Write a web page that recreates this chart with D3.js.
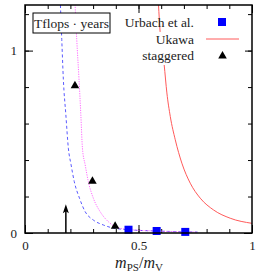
<!DOCTYPE html>
<html>
<head>
<meta charset="utf-8">
<script src="https://cdn.jsdelivr.net/npm/d3@7"></script>
<style>
  body { margin: 0; background: #fff; }
  svg { display: block; font-family: "Liberation Serif", "DejaVu Serif", serif; }
  svg text { font-family: "Liberation Serif", "DejaVu Serif", serif; }
  .tick line { stroke: #000; stroke-width: 1; }
  .tick text { font-size: 13px; fill: #222; }
</style>
</head>
<body>
<svg id="chart" width="258" height="273"></svg>
<script>
// values
const urbachX = [0.456, 0.58, 0.706];
const urbachY = [0.018, 0.011, 0.006];

const staggeredX = [0.22, 0.297, 0.397];
const staggeredY = [0.81, 0.287, 0.04];

const ukawaX = [0.588, 0.595, 0.613, 0.625, 0.640, 0.662, 0.691, 0.728, 0.772, 0.831, 0.904, 1.0];
const ukawaY = [1.253, 1.106, 0.923, 0.768, 0.639, 0.511, 0.383, 0.273, 0.191, 0.126, 0.081, 0.053];

const blueX = [0.156, 0.162, 0.169, 0.180, 0.191, 0.203, 0.217, 0.240, 0.265, 0.301, 0.345, 0.382, 0.454, 0.58, 0.706, 0.76];
const blueY = [1.25, 1.06, 0.841, 0.648, 0.465, 0.374, 0.282, 0.191, 0.117, 0.071, 0.044, 0.029, 0.018, 0.011, 0.006, 0.005];

const pinkX = [0.2206, 0.228, 0.238, 0.246, 0.253, 0.265, 0.279, 0.301, 0.331, 0.367, 0.397, 0.454, 0.58, 0.706, 0.76];
const pinkY = [1.253, 1.06, 0.841, 0.648, 0.465, 0.374, 0.282, 0.191, 0.117, 0.062, 0.035, 0.019, 0.011, 0.006, 0.005];

const arrowX = 0.18;
const arrowY = [0, 0.157];

const xMinor = d3.range(0, 1.0001, 0.1);
const xMajor = [0, 0.5, 1];
const xLabels = ["0", "0.5", "1"];
const yMinor = d3.range(0, 1.2001, 0.2);
const yMajor = [0, 1];
const yLabels = ["0", "1"];

const legendLabels = ["Urbach et al.", "Ukawa", "staggered"];
const boxLabel = "Tflops \u00b7 years";

const svg = d3.select("#chart");
const pl = 25, pr = 252, pt = 5, pb = 233;

const x = d3.scaleLinear().domain([0, 1]).range([pl, pr]);
const y = d3.scaleLinear().domain([0, 1.25]).range([pb, pt]);

svg.append("defs").append("clipPath").attr("id", "plotclip")
  .append("rect").attr("x", pl).attr("y", pt)
  .attr("width", pr - pl).attr("height", pb - pt);

const fmt = (vals, labs) => d => labs[vals.findIndex(v => Math.abs(v - d) < 1e-9)];

// ticks, all four sides, pointing in
function ticks(axisFn, scale, vals, size, tr, labs, pad) {
  const a = axisFn(scale).tickValues(vals).tickSize(-size).tickPadding(pad || 7)
    .tickFormat(labs ? fmt(vals, labs) : "");
  const g = svg.append("g").attr("transform", tr).call(a)
    .attr("font-family", null).attr("font-size", null);
  g.select(".domain").remove();
  return g;
}
ticks(d3.axisBottom, x, xMinor, 4, `translate(0,${pb})`);
ticks(d3.axisBottom, x, xMajor, 8, `translate(0,${pb})`, xLabels, 8);
ticks(d3.axisTop, x, xMinor, 4, `translate(0,${pt})`);
ticks(d3.axisTop, x, xMajor, 8, `translate(0,${pt})`);
ticks(d3.axisLeft, y, yMinor, 4, `translate(${pl},0)`);
ticks(d3.axisLeft, y, yMajor, 8, `translate(${pl},0)`, yLabels, 8);
ticks(d3.axisRight, y, yMinor, 4, `translate(${pr},0)`);
ticks(d3.axisRight, y, yMajor, 8, `translate(${pr},0)`);

const plot = svg.append("g").attr("clip-path", "url(#plotclip)");
const line = d3.line().x(d => x(d[0])).y(d => y(d[1])).curve(d3.curveMonotoneX);

plot.append("path")
  .datum(d3.zip(blueX, blueY))
  .attr("d", line)
  .attr("fill", "none").attr("stroke", "#5a5aff").attr("stroke-width", 1)
  .attr("stroke-dasharray", "3,2.5");

plot.append("path")
  .datum(d3.zip(pinkX, pinkY))
  .attr("d", line)
  .attr("fill", "none").attr("stroke", "#ff6cff").attr("stroke-width", 1)
  .attr("stroke-dasharray", "1.2,1.2");

plot.append("path")
  .datum(d3.zip(ukawaX, ukawaY))
  .attr("d", line)
  .attr("fill", "none").attr("stroke", "#ff5a5a").attr("stroke-width", 1);

// arrow
svg.append("line")
  .attr("x1", x(arrowX)).attr("x2", x(arrowX))
  .attr("y1", y(arrowY[0])).attr("y2", y(arrowY[1]) + 6)
  .attr("stroke", "#000").attr("stroke-width", 1.5);
svg.append("path")
  .attr("d", `M${x(arrowX)},${y(arrowY[1])} l-3,9 l3,-2 l3,2 Z`)
  .attr("fill", "#000");

// markers
const tri = d3.symbol().type(d3.symbolTriangle).size(32);
svg.selectAll(".stag").data(d3.zip(staggeredX, staggeredY)).enter()
  .append("path").attr("class", "stag")
  .attr("d", tri)
  .attr("transform", d => `translate(${x(d[0])},${y(d[1]) + 0.5})`)
  .attr("fill", "#000");

svg.selectAll(".urb").data(d3.zip(urbachX, urbachY)).enter()
  .append("rect").attr("class", "urb")
  .attr("x", d => x(d[0]) - 4).attr("y", d => y(d[1]) - 4)
  .attr("width", 8).attr("height", 8)
  .attr("fill", "#0000ff");

// frame
svg.append("rect")
  .attr("x", pl).attr("y", pt)
  .attr("width", pr - pl).attr("height", pb - pt)
  .attr("fill", "none").attr("stroke", "#000").attr("stroke-width", 1.5);

// label box
svg.append("rect")
  .attr("x", 33).attr("y", 13).attr("width", 77).attr("height", 20)
  .attr("fill", "#fff").attr("stroke", "#000").attr("stroke-width", 1);
svg.append("text")
  .attr("x", 71.5).attr("y", 28)
  .attr("text-anchor", "middle").attr("font-size", "13.5px").attr("fill", "#222")
  .text(boxLabel);

// legend
svg.append("rect")
  .attr("x", 145).attr("y", 32).attr("width", 100).attr("height", 33)
  .attr("fill", "#fff");
const rowY = [26.5, 43.5, 60];
legendLabels.forEach((t, i) => {
  svg.append("text")
    .attr("x", 194).attr("y", rowY[i])
    .attr("text-anchor", "end").attr("font-size", "13.5px").attr("fill", "#222")
    .text(t);
});
svg.append("rect").attr("x", 218).attr("y", rowY[0] - 8.5)
  .attr("width", 8).attr("height", 8).attr("fill", "#0000ff");
svg.append("line").attr("x1", 206).attr("x2", 239)
  .attr("y1", rowY[1] - 4.5).attr("y2", rowY[1] - 4.5)
  .attr("stroke", "#ff5a5a").attr("stroke-width", 1);
svg.append("path").attr("d", tri)
  .attr("transform", `translate(222.5,${rowY[2] - 4})`).attr("fill", "#000");

// x axis title
const xt = svg.append("text")
  .attr("x", 139).attr("y", 268)
  .attr("text-anchor", "middle").attr("font-size", "16px").attr("fill", "#222");
xt.append("tspan").attr("font-style", "italic").text("m");
xt.append("tspan").attr("font-size", "11px").attr("dy", 3).text("PS");
xt.append("tspan").attr("dy", -3).text("/");
xt.append("tspan").attr("font-style", "italic").text("m");
xt.append("tspan").attr("font-size", "11px").attr("dy", 3).text("V");
</script>
</body>
</html>
